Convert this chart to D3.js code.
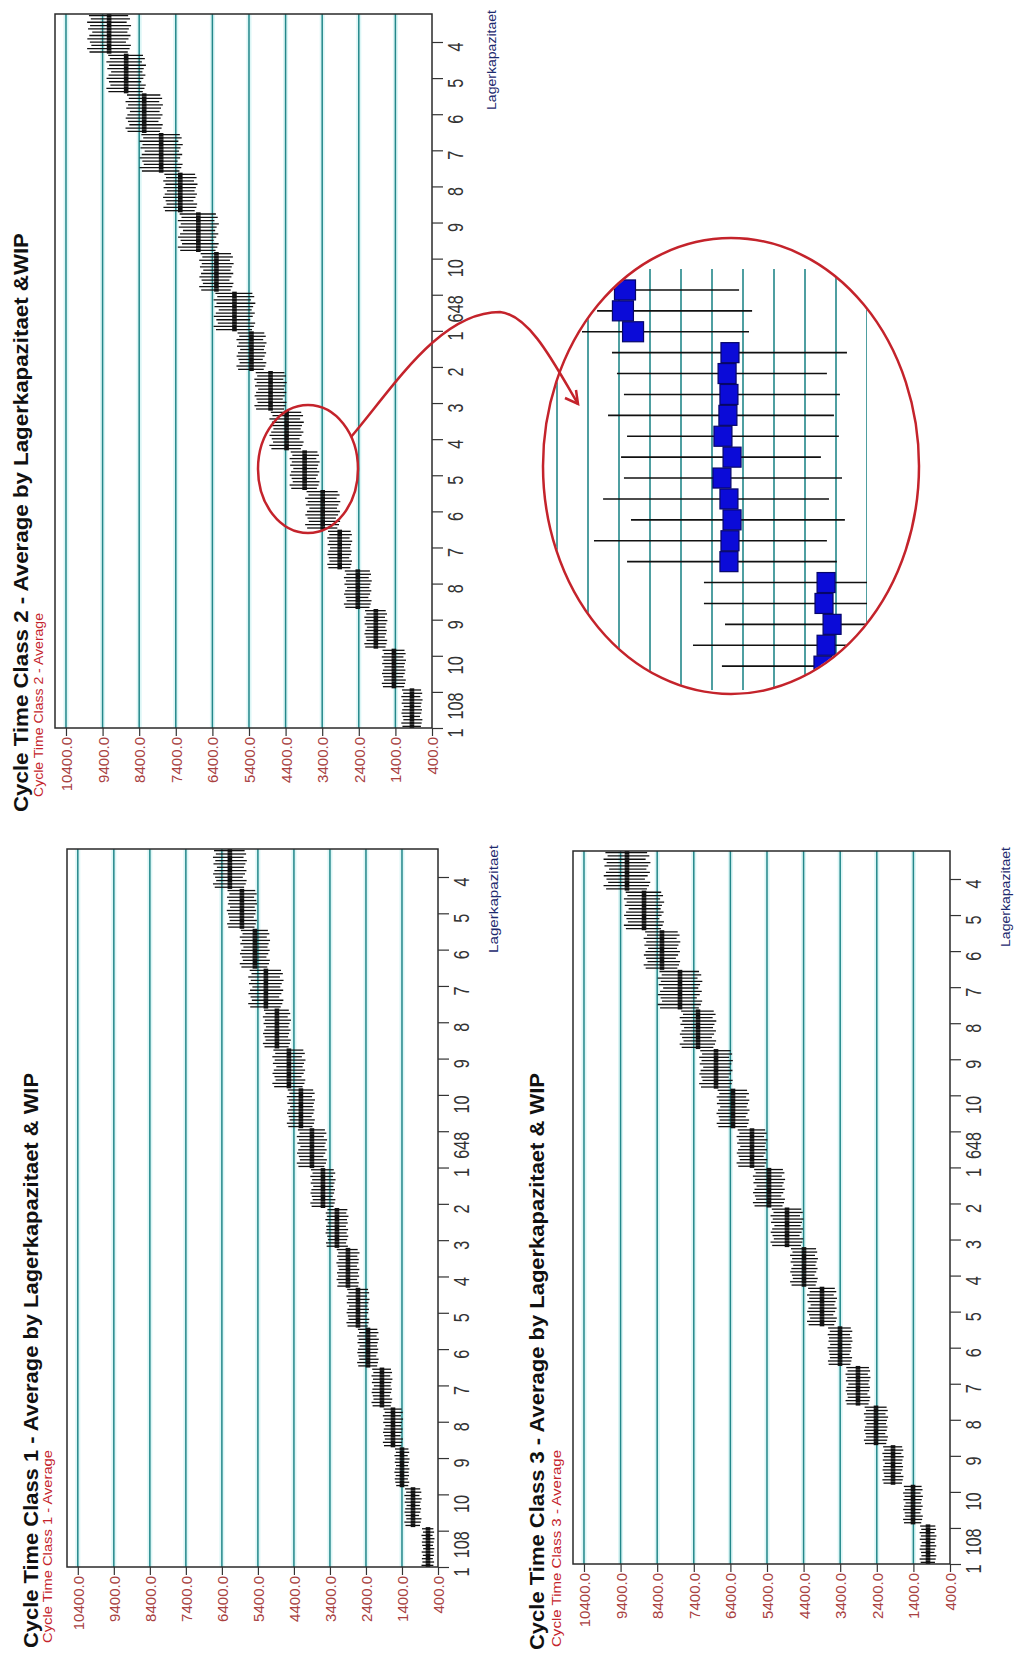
<!DOCTYPE html>
<html><head><meta charset="utf-8">
<script src="https://cdn.jsdelivr.net/npm/d3@7"></script>
<style>body{margin:0;background:#fff}svg{display:block}</style>
</head><body>
<svg id="c" width="1014" height="1657"></svg>
<script>
// ---------------- DATA ----------------
const valueTicks = [400, 1400, 2400, 3400, 4400, 5400, 6400, 7400, 8400, 9400, 10400];
// category tick labels, from the first (picture bottom) to the last (picture top)
const categoryLabels = ["1","108","10","9","8","7","6","5","4","3","2","1","648","10","9","8","7","6","5","4"];
const titles = [
  "Cycle Time Class 1 - Average by Lagerkapazitaet & WIP",
  "Cycle Time Class 2 - Average by Lagerkapazitaet &WIP",
  "Cycle Time Class 3 - Average by Lagerkapazitaet & WIP"
];
const subtitles = ["Cycle Time Class 1 - Average", "Cycle Time Class 2 - Average", "Cycle Time Class 3 - Average"];
const axisName = "Lagerkapazitaet";

// group averages (first group = picture bottom)
const class1Means = [678,1094,1400,1650,1956,2344,2622,2900,3206,3594,3900,4206,4539,4872,5178,5483,5844,6178];
const class2Means = [948,1441,1934,2427,2921,3386,3880,4373,4811,5332,5797,6290,6784,7277,7800,8263,8756,9222];
const class3Means = [1001,1411,1957,2422,2914,3405,3897,4389,4853,5345,5810,6329,6793,7285,7777,8269,8760,9225];

// per-run error extents below (lo) and above (hi) the average, 12 runs per group
const class1Lo = [
[150,170,130,180,160,140,175,155,165,135,170,150],[200,230,180,240,210,190,225,205,170,235,215,195],
[180,200,160,210,190,170,205,185,195,165,200,175],[240,270,220,280,250,230,265,245,210,275,255,235],
[250,280,230,290,260,240,275,255,220,285,265,245],[260,290,240,300,270,250,285,265,230,295,275,255],
[280,310,250,320,290,265,305,285,245,315,295,270],[270,320,260,300,290,250,315,280,310,255,300,285],
[290,260,320,280,300,250,310,270,315,285,255,305],[300,340,280,350,320,290,335,310,270,345,325,295],
[360,400,330,420,380,350,410,370,320,415,390,345],[340,380,310,390,360,330,375,350,300,385,365,320],
[400,440,360,460,420,380,450,410,350,455,430,380],[330,370,300,390,350,320,380,340,310,385,360,325],
[420,470,390,490,440,400,480,430,370,485,455,410],[360,400,330,420,380,350,410,370,320,415,390,345],
[370,410,340,400,420,355,395,375,330,415,385,350],[410,450,380,470,430,390,460,420,360,465,440,395]];
const class1Hi = [
[165,140,180,150,170,160,135,175,145,170,155,180],[220,190,240,200,230,180,215,235,205,185,240,210],
[195,170,210,180,200,165,190,210,175,200,185,160],[260,230,280,240,270,215,255,275,245,225,280,250],
[270,240,290,250,280,225,265,285,255,235,290,260],[280,250,300,260,290,235,275,295,265,245,300,270],
[300,265,320,275,310,250,290,315,280,260,320,290],[310,270,300,260,320,285,255,305,275,315,265,295],
[265,310,280,320,255,300,290,315,270,250,305,285],[330,290,350,300,340,270,320,345,310,285,350,315],
[390,345,420,360,405,320,380,415,365,335,420,375],[365,320,390,335,375,300,355,385,340,315,390,350],
[430,380,460,395,445,350,420,455,400,370,460,410],[360,320,390,335,370,305,350,385,340,315,390,345],
[450,400,490,420,470,375,440,485,425,390,490,435],[390,345,420,360,405,320,380,415,365,335,420,375],
[400,350,415,365,390,330,420,385,360,340,410,380],[440,390,470,405,455,360,430,465,410,380,470,420]];

const class2Lo = [
[250,280,230,290,260,240,275,255,220,285,265,245],[290,320,260,330,300,275,315,295,255,325,305,280],
[270,305,250,315,285,260,300,280,245,310,290,265],[330,360,300,380,345,315,370,335,290,375,350,320],
[300,330,270,340,310,285,325,305,260,335,315,290],[410,460,380,480,430,390,470,420,360,475,445,400],
[350,390,320,410,370,340,400,360,310,405,380,335],[400,450,370,470,420,385,460,410,355,465,435,390],
[380,420,350,440,400,365,430,390,335,435,410,370],[350,390,320,410,370,340,400,360,310,405,380,335],
[490,540,450,570,510,470,555,500,430,565,530,480],[400,450,370,470,420,385,460,410,355,465,435,390],
[480,530,440,560,500,460,545,490,420,555,520,470],[405,445,375,470,425,390,455,415,360,460,440,395],
[510,560,470,590,530,490,575,520,450,585,550,500],[440,490,410,510,460,420,500,450,390,505,475,430],
[460,510,430,540,480,445,525,470,410,535,500,455],[520,570,480,600,540,500,585,530,460,595,560,510]];
const class2Hi = [
[270,240,290,250,280,225,265,285,255,235,290,260],[310,275,330,285,320,260,300,325,290,270,330,300],
[295,260,315,275,305,245,285,310,275,255,315,290],[355,315,380,325,365,295,345,375,330,305,380,340],
[320,285,340,295,330,265,310,335,300,280,340,310],[440,390,480,410,460,365,430,475,415,380,480,425],
[380,335,410,350,395,310,370,405,355,325,410,365],[430,385,470,400,450,360,420,465,405,370,470,415],
[405,365,440,380,425,340,395,435,385,355,440,395],[380,335,410,350,395,310,370,405,355,325,410,365],
[520,470,570,490,545,430,510,565,495,455,570,505],[430,385,470,400,450,360,420,465,405,370,470,415],
[510,460,560,480,535,420,500,555,485,445,560,495],[435,390,465,405,455,365,425,470,400,375,460,420],
[540,490,590,510,565,450,530,585,515,475,590,525],[470,420,510,440,490,390,460,505,445,405,510,455],
[490,445,540,465,515,410,480,535,470,430,540,485],[550,500,600,520,575,460,540,595,525,485,600,535]];

const class3Lo = [
[200,220,180,230,205,185,225,195,175,228,210,190],[235,260,210,270,240,220,265,230,205,268,250,225],
[250,280,230,290,260,240,275,255,220,285,265,245],[290,320,260,330,300,275,315,295,255,325,305,280],
[300,330,270,340,310,285,325,305,260,335,315,290],[295,335,275,320,340,290,315,300,265,330,310,285],
[350,390,320,410,370,340,400,360,310,405,380,335],[330,360,300,380,345,315,370,335,290,375,350,320],
[390,430,355,450,410,370,440,400,345,445,420,380],[380,420,350,440,400,365,430,390,335,435,410,370],
[360,400,330,420,380,350,410,370,320,415,390,345],[385,435,360,445,410,375,450,400,350,440,420,380],
[400,440,360,460,420,380,450,410,350,455,430,380],[430,480,400,500,450,410,490,440,380,495,465,420],
[520,580,480,610,550,500,595,540,460,605,570,515],[430,480,400,500,450,410,490,440,380,495,465,420],
[470,520,440,550,490,455,535,480,420,545,510,465],[550,610,510,640,580,530,625,565,490,635,600,545]];
const class3Hi = [
[215,185,230,195,225,175,205,228,190,180,230,200],[250,220,270,230,262,205,240,268,228,212,270,245],
[270,240,290,250,280,225,265,285,255,235,290,260],[310,275,330,285,320,260,300,325,290,270,330,300],
[320,285,340,295,330,265,310,335,300,280,340,310],[325,280,335,300,315,270,340,305,290,275,330,310],
[380,335,410,350,395,310,370,405,355,325,410,365],[355,315,380,325,365,295,345,375,330,305,380,340],
[415,370,450,390,435,345,405,445,395,360,450,405],[405,365,440,380,425,340,395,435,385,355,440,395],
[390,345,420,360,405,320,380,415,365,335,420,375],[420,375,445,385,440,350,410,450,390,365,445,400],
[430,380,460,395,445,350,420,455,400,370,460,410],[460,410,500,430,480,380,450,495,435,395,500,445],
[560,500,610,525,585,460,545,605,530,490,610,545],[460,410,500,430,480,380,450,495,435,395,500,445],
[500,455,550,475,525,420,490,545,480,440,550,495],[590,530,640,555,615,490,575,635,560,515,640,570]];

// magnified detail (Class 2, three neighbouring groups), runs from top to bottom
const detailGroup = ["A","A","A","B","B","B","B","B","B","B","B","B","B","B","C","C","C","C","C"];
const detailMean = [4871,4881,4832, 4363,4377,4368,4373,4397,4353,4402,4368,4353,4363,4368, 3898,3908,3869,3898,3913];
const detailHigh = [4895,5006,5079, 4934,4910,4876,4953,4861,4890,4876,4977,4842,5021,4861, 4489,4489,4387,4542,4402];
const detailLow  = [4319,4256,4271, 3797,3894,3831,3860,3836,3923,3821,3884,3807,3894,3846, 3650,3650,3500,3500,3500];
const detailGrid = [5200,5050,4900,4750,4600,4450,4300,4150,4000,3850,3700];

// ---------------- LAYOUT ----------------
const FONT = "'Liberation Sans', Arial, Helvetica, sans-serif";
const TEAL = "#23878a", HALO = "#dcf6f6", RED = "#c4232b", VAL = "#a8413f";
const layouts = [
  {left:67, right:438, top:849, bottom:1567, tx:38, ty:1648, tl:575, sx:52, sy:1643, sl:193, ax:498, ay:953, al:108},
  {left:55, right:432, top:14,  bottom:728,  tx:28, ty:812,  tl:579, sx:43, sy:797,  sl:184, ax:496, ay:110, al:100},
  {left:573,right:950, top:851, bottom:1564, tx:544,ty:1650, tl:577, sx:561,sy:1647, sl:197, ax:1010,ay:947, al:100}
];
const seriesMeans = [class1Means, class2Means, class3Means];
const seriesLo = [class1Lo, class2Lo, class3Lo];
const seriesHi = [class1Hi, class2Hi, class3Hi];

const svg = d3.select("#c");

function drawChart(k) {
  const L = layouts[k], means = seriesMeans[k], lo = seriesLo[k], hi = seriesHi[k];
  const g = svg.append("g");
  const x = d3.scaleLinear().domain([400, 10700]).range([L.right, L.left]);
  const yG = d3.scaleBand().domain(d3.range(means.length)).range([L.bottom, L.top]);
  const yB = d3.scaleBand().domain(d3.range(12)).range([0, yG.bandwidth()]);
  const yT = d3.scalePoint().domain(d3.range(categoryLabels.length)).range([L.bottom, L.top + 28]);

  // gridlines
  const grid = valueTicks.filter(v => v > 400);
  g.append("g").selectAll("line").data(grid).join("line")
    .attr("x1", d => x(d)).attr("x2", d => x(d)).attr("y1", L.top).attr("y2", L.bottom)
    .attr("stroke", HALO).attr("stroke-width", 5);
  g.append("g").selectAll("line").data(grid).join("line")
    .attr("x1", d => x(d)).attr("x2", d => x(d)).attr("y1", L.top).attr("y2", L.bottom)
    .attr("stroke", TEAL).attr("stroke-width", 1.5);

  // error bars
  const runs = means.flatMap((m, i) => lo[i].map((l, j) => ({i, j, m, low: m - l, high: m + hi[i][j]})));
  const yc = d => yG(d.i) + yB(d.j) + yB.bandwidth() / 2;
  g.append("g").selectAll("line").data(runs).join("line")
    .attr("x1", d => x(d.high)).attr("x2", d => x(d.low))
    .attr("y1", yc).attr("y2", yc)
    .attr("stroke", "#111").attr("stroke-width", 1.3);
  g.append("g").selectAll("rect").data(runs).join("rect")
    .attr("x", d => x(d.m) - 2.3).attr("y", d => yc(d) - yB.bandwidth() / 2)
    .attr("width", 4.6).attr("height", yB.bandwidth())
    .attr("fill", "#111");

  // frame
  g.append("rect").attr("x", L.left).attr("y", L.top)
    .attr("width", L.right - L.left).attr("height", L.bottom - L.top)
    .attr("fill", "none").attr("stroke", "#2a2a2a").attr("stroke-width", 1.5);

  // value axis (picture bottom)
  const ax = g.append("g").attr("transform", `translate(0,${L.bottom})`)
    .call(d3.axisBottom(x).tickValues(valueTicks).tickFormat(d3.format(".1f")).tickSize(8).tickSizeOuter(0));
  ax.select(".domain").remove();
  ax.selectAll("line").attr("stroke", "#333").attr("stroke-width", 1.2);
  ax.selectAll("text").attr("transform", "rotate(-90)").attr("x", -9).attr("y", 5.5).attr("dy", 0)
    .attr("text-anchor", "end").attr("fill", VAL).attr("font-family", FONT).attr("font-size", 15);

  // category axis (picture right)
  const cx = g.append("g").attr("transform", `translate(${L.right},0)`)
    .call(d3.axisRight(yT).tickFormat(i => categoryLabels[i]).tickSize(11).tickSizeOuter(0));
  cx.select(".domain").remove();
  cx.selectAll("line").attr("stroke", "#333").attr("stroke-width", 1.2);
  cx.selectAll("text").attr("transform", "rotate(-90) scale(0.74,1)").attr("x", 0).attr("y", 31).attr("dy", 0)
    .attr("text-anchor", "end").attr("fill", "#333").attr("font-family", FONT).attr("font-size", 22);

  // texts
  g.append("text").attr("transform", `translate(${L.tx},${L.ty}) rotate(-90)`)
    .attr("font-family", FONT).attr("font-size", 20).attr("font-weight", "bold").attr("fill", "#111")
    .attr("textLength", L.tl).attr("lengthAdjust", "spacingAndGlyphs").text(titles[k]);
  g.append("text").attr("transform", `translate(${L.sx},${L.sy}) rotate(-90)`)
    .attr("font-family", FONT).attr("font-size", 12).attr("fill", RED)
    .attr("textLength", L.sl).attr("lengthAdjust", "spacingAndGlyphs").text(subtitles[k]);
  g.append("text").attr("transform", `translate(${L.ax},${L.ay}) rotate(-90)`)
    .attr("font-family", FONT).attr("font-size", 12.5).attr("fill", "#1d2a6e")
    .attr("textLength", L.al).attr("lengthAdjust", "spacingAndGlyphs").text(axisName);
}
[0, 1, 2].forEach(drawChart);

// ---------------- magnified detail ----------------
const E = {cx:731, cy:466, rx:188, ry:228};
const defs = svg.append("defs");
defs.append("clipPath").attr("id", "ellClip").append("ellipse")
  .attr("cx", E.cx).attr("cy", E.cy).attr("rx", E.rx - 1).attr("ry", E.ry - 1);
defs.append("clipPath").attr("id", "rectClip").append("rect")
  .attr("x", 530).attr("y", 269).attr("width", 337).attr("height", 421);
const dx = d3.scaleLinear().domain([5200, 3700]).range([557, 867]);
const dy = d3.scaleBand().domain(d3.range(detailMean.length)).range([279.5, 676.6]);
const outer = svg.append("g").attr("clip-path", "url(#ellClip)");
const inner = outer.append("g").attr("clip-path", "url(#rectClip)");
inner.selectAll("line.grid").data(detailGrid).join("line").attr("class", "grid")
  .attr("x1", d => dx(d)).attr("x2", d => dx(d)).attr("y1", 269).attr("y2", 690)
  .attr("stroke", TEAL).attr("stroke-width", 1.6);
const drow = detailMean.map((m, i) => ({i, m, lo: detailLow[i], hi: detailHigh[i], grp: detailGroup[i]}));
const dyc = d => dy(d.i) + dy.bandwidth() / 2;
inner.selectAll("line.bar").data(drow).join("line").attr("class", "bar")
  .attr("x1", d => dx(d.hi)).attr("x2", d => dx(d.lo)).attr("y1", dyc).attr("y2", dyc)
  .attr("stroke", "#111").attr("stroke-width", 1.6);
inner.selectAll("rect.mk").data(drow).join("rect").attr("class", "mk")
  .attr("x", d => dx(d.m) - (d.grp === "A" ? 10.5 : 9)).attr("y", d => dyc(d) - 10)
  .attr("width", d => d.grp === "A" ? 21 : 18).attr("height", 20)
  .attr("fill", "#0b0bd8").attr("stroke", "#06066a").attr("stroke-width", 1.2);
svg.append("ellipse").attr("cx", E.cx).attr("cy", E.cy).attr("rx", E.rx).attr("ry", E.ry)
  .attr("fill", "none").attr("stroke", RED).attr("stroke-width", 2.5);

// annotation: circle on Class 2 and curved arrow
svg.append("ellipse").attr("cx", 308).attr("cy", 469).attr("rx", 50).attr("ry", 64)
  .attr("fill", "none").attr("stroke", RED).attr("stroke-width", 2.5);
svg.append("path").attr("d", "M351,437 C395,385 440,312 500,312 C530,315 555,365 578,404")
  .attr("fill", "none").attr("stroke", RED).attr("stroke-width", 2.5);
svg.append("path").attr("d", "M576,390 L578,404 L565,398")
  .attr("fill", "none").attr("stroke", RED).attr("stroke-width", 2.5).attr("stroke-linejoin", "miter");
</script>
</body></html>
